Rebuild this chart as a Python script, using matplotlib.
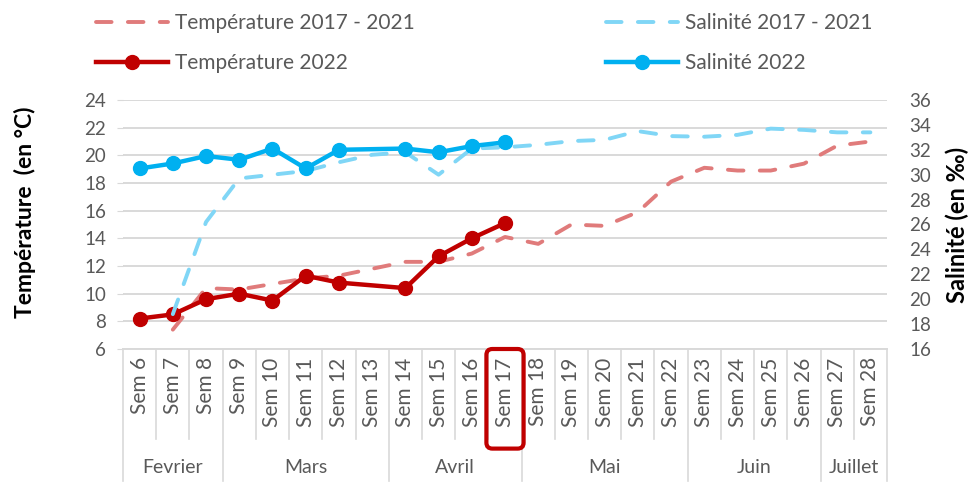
import numpy as np
import matplotlib.pyplot as plt
from matplotlib.lines import Line2D
from matplotlib.patches import FancyBboxPatch
from matplotlib.transforms import blended_transform_factory, IdentityTransform

plt.rcParams['font.family'] = ['Lato', 'DejaVu Sans']

nan = np.nan
weeks = ["Sem %d" % w for w in range(6, 29)]
months = ["Fevrier", "Mars", "Avril", "Mai", "Juin", "Juillet"]
month_sizes = [3, 5, 4, 5, 4, 2]

temp_avg = [nan, 7.4, 10.4, 10.3, 10.7, 11.1, 11.3, 11.8, 12.3, 12.3, 12.9, 14.1,
            13.6, 15.0, 14.9, 15.9, 18.1, 19.1, 18.9, 18.9, 19.4, 20.7, 21.0]
sal_avg = [nan, 18.8, 26.2, 29.7, 30.0, 30.3, 31.0, 31.6, 31.8, 30.0, 32.1, 32.2,
           32.4, 32.7, 32.8, 33.5, 33.1, 33.05, 33.2, 33.7, 33.6, 33.4, 33.4]
temp_2022 = [8.2, 8.5, 9.6, 10.0, 9.5, 11.3, 10.8, nan, 10.4, 12.7, 14.0, 15.1] + [nan] * 11
sal_2022 = [30.5, 30.9, 31.5, 31.2, 32.1, 30.5, 32.0, nan, 32.1, 31.8, 32.3, 32.6] + [nan] * 11

RED = "#C00000"
RED_L = "#E07B7B"
BLUE = "#00B0F0"
BLUE_L = "#80D6F6"
GRID = "#D9D9D9"
TXT = "#595959"


def valid(vals):
    v = np.array(vals, dtype=float)
    x = np.arange(len(v))
    m = ~np.isnan(v)
    return x[m], v[m]


fig = plt.figure(figsize=(9.76, 4.82), dpi=100)
W, H = 976, 482
ax = fig.add_axes([123 / W, 1 - 349 / H, (887 - 123) / W, 249 / H])
ax2 = ax.twinx()

dash = (4.0, 4.2)
x, y = valid(temp_avg)
ax.plot(x, y, color=RED_L, lw=2.8, dashes=dash, dash_capstyle='round')
x, y = valid(temp_2022)
ax.plot(x, y, color=RED, lw=3.2, marker='o', ms=10)
x, y = valid(sal_avg)
ax2.plot(x, y, color=BLUE_L, lw=2.8, dashes=dash, dash_capstyle='round')
x, y = valid(sal_2022)
ax2.plot(x, y, color=BLUE, lw=3.2, marker='o', ms=10)

ax.set_xlim(-0.5, len(weeks) - 0.5)
ax.set_ylim(6, 24)
ax.set_yticks(np.arange(6, 25, 2))
ax2.set_ylim(16, 36)
ax2.set_yticks(np.arange(16, 37, 2))
ax.yaxis.grid(True, color=GRID, lw=1.4)
ax.set_axisbelow(True)
for a in (ax, ax2):
    for s in a.spines.values():
        s.set_visible(False)
ax.tick_params(axis='y', length=4, color=GRID, labelcolor=TXT, labelsize=13.5, pad=8)
ax2.tick_params(axis='y', length=0, labelcolor=TXT, labelsize=13.5, pad=16)
ax.set_xticks(range(len(weeks)))
ax.set_xticklabels(weeks, rotation=90, color=TXT, fontsize=15, va='top')
ax.tick_params(axis='x', length=0, pad=6)

# two level category axis
tr = blended_transform_factory(ax.transData, ax.transAxes)
bounds = np.cumsum([0] + month_sizes) - 0.5
for b in np.arange(-0.5, len(weeks)):
    low = -0.53 if np.any(np.isclose(bounds, b)) else -0.36
    ax.plot([b, b], [0, low], color=GRID, lw=1.2, transform=tr, clip_on=False)
ax.plot([-0.5, len(weeks) - 0.5], [0, 0], color=GRID, lw=1.4, transform=tr, clip_on=False)
for i, m in enumerate(months):
    c = (bounds[i] + bounds[i + 1]) / 2
    ax.text(c, -0.475, m, transform=tr, ha='center', va='center', color=TXT, fontsize=14)

# highlight box around Sem 17
fig.canvas.draw()
k = weeks.index("Sem 17")
x0 = ax.transData.transform((k - 0.56, 0))[0]
x1 = ax.transData.transform((k + 0.56, 0))[0]
y1 = ax.transAxes.transform((0, 0))[1]
y0 = ax.transAxes.transform((0, -0.40))[1]
box = FancyBboxPatch((x0, y0), x1 - x0, y1 - y0, boxstyle="round,pad=0,rounding_size=6",
                     fill=False, edgecolor=RED, lw=3, transform=IdentityTransform())
fig.add_artist(box)

fig.text(25 / W, 1 - 212 / H, "Température  (en °C)", rotation=90, ha='center', va='center',
         fontsize=16.5, fontweight='bold')
fig.text(957 / W, 1 - 225 / H, "Salinité (en ‰)", rotation=90, ha='center', va='center',
         fontsize=17, fontweight='bold')

h1 = [Line2D([], [], color=RED_L, lw=2.8, dashes=dash, dash_capstyle='round'),
      Line2D([], [], color=RED, lw=3.2, marker='o', ms=10)]
h2 = [Line2D([], [], color=BLUE_L, lw=2.8, dashes=dash, dash_capstyle='round'),
      Line2D([], [], color=BLUE, lw=3.2, marker='o', ms=10)]
kw = dict(frameon=False, handlelength=3.45, handletextpad=0.35, labelspacing=0.95,
          prop={'size': 15}, labelcolor=TXT, loc='upper left', borderaxespad=0, borderpad=0)
leg1 = fig.legend(h1, ["Température 2017 - 2021", "Température 2022"],
                  bbox_to_anchor=(96 / W, 1 - 13 / H), **kw)
leg2 = fig.legend(h2, ["Salinité 2017 - 2021", "Salinité 2022"],
                  bbox_to_anchor=(606 / W, 1 - 13 / H), **kw)

fig.savefig("out.png", dpi=100)
